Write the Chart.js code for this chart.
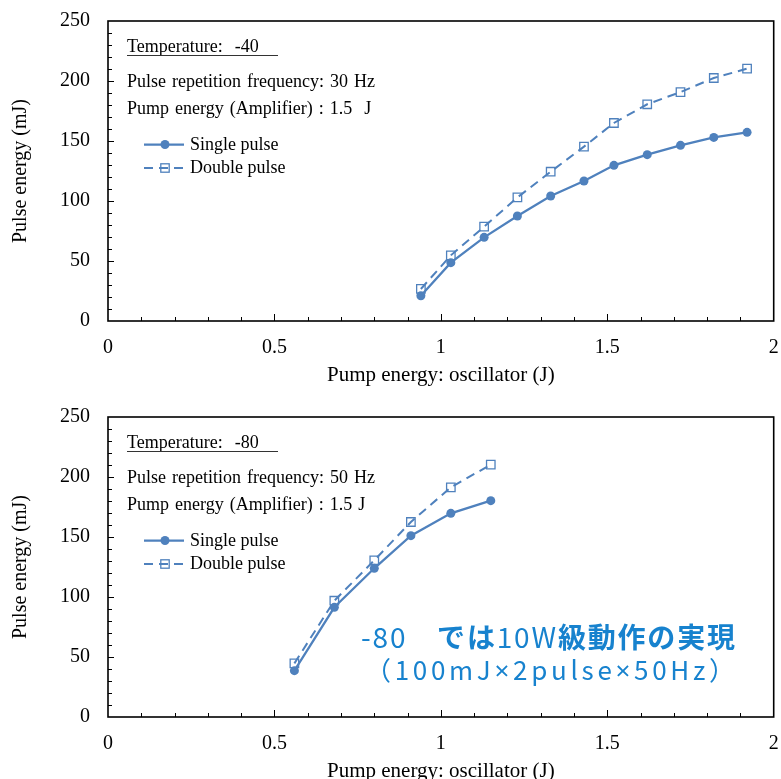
<!DOCTYPE html>
<html><head><meta charset="utf-8">
<script src="https://cdn.jsdelivr.net/npm/chart.js@4.4.1/dist/chart.umd.min.js"></script>
<style>
html,body{margin:0;padding:0;background:#fff;overflow:hidden;width:781px;height:779px;position:relative}
canvas{display:block;position:absolute;left:0}
#c1{top:0}
#c2{top:396px}
</style></head><body>
<canvas id="c1" width="781" height="396"></canvas>
<canvas id="c2" width="781" height="396"></canvas>
<script>
// ---------- data ----------
const xTop = [0.94, 1.03, 1.13, 1.23, 1.33, 1.43, 1.52, 1.62, 1.72, 1.82, 1.92];
const singleTop = [21, 48.6, 69.7, 87.5, 104.2, 116.7, 129.7, 138.6, 146.4, 153, 157.2];
const doubleTop = [26.7, 54.7, 78.6, 103, 124.4, 145.3, 165, 180.6, 190.8, 202.5, 210.3];

const xBottom = [0.56, 0.68, 0.80, 0.91, 1.03, 1.15];
const singleBottom = [38.6, 91.4, 123.9, 151.1, 169.7, 180.3];
const doubleBottom = [44.7, 96.9, 130.6, 162.5, 191.4, 210.3];

const seriesNames = ['Single pulse', 'Double pulse'];
const xTitle = 'Pump energy: oscillator (J)';
const yTitle = 'Pulse energy (mJ)';
const infoTop = ['Temperature:  -40', 'Pulse repetition frequency: 30 Hz', 'Pump energy (Amplifier) : 1.5  J'];
const infoBottom = ['Temperature:  -80', 'Pulse repetition frequency: 50 Hz', 'Pump energy (Amplifier) : 1.5 J'];
const noteLine1 = [['-80', 400], ['\u3000', 400], ['では', 700], ['10W', 400], ['級動作の実現', 700]];
const noteLine2 = '（100mJ×2pulse×50Hz）';

// ---------- style ----------
const SERIF = '"Liberation Serif","Times New Roman",serif';
const CJK = '"Noto Sans CJK JP","Noto Sans CJK SC",sans-serif';
const BLUE = '#4F81BD';
const NOTE_BLUE = '#1782CE';

function pts(xs, ys) { return xs.map((x, i) => ({x, y: ys[i]})); }

function makeDatasets(xs, s, d) {
  return [
    {label: seriesNames[0], data: pts(xs, s), showLine: true, borderColor: BLUE, backgroundColor: BLUE,
     borderWidth: 2.25, pointStyle: 'circle', pointRadius: 4.5, pointBackgroundColor: BLUE, pointBorderColor: BLUE,
     pointBorderWidth: 0, tension: 0},
    {label: seriesNames[1], data: pts(xs, d), showLine: true, borderColor: BLUE, backgroundColor: 'transparent',
     borderWidth: 2, borderDash: [9, 6], pointStyle: 'rect', pointRadius: 6, pointBackgroundColor: 'transparent',
     pointBorderColor: BLUE, pointBorderWidth: 1.3, tension: 0}
  ];
}

function drawLegend(ctx, y, baseline, type, label) {
  const x1 = 144, x2 = 184, mx = 165;
  ctx.save();
  ctx.strokeStyle = BLUE;
  if (type === 0) {
    ctx.lineWidth = 2.25; ctx.setLineDash([]);
    ctx.beginPath(); ctx.moveTo(x1, y); ctx.lineTo(x2, y); ctx.stroke();
    ctx.fillStyle = BLUE; ctx.beginPath(); ctx.arc(mx, y, 4.5, 0, Math.PI * 2); ctx.fill();
  } else {
    ctx.lineWidth = 2; ctx.setLineDash([9, 6]);
    ctx.beginPath(); ctx.moveTo(x1, y); ctx.lineTo(x2, y); ctx.stroke();
    ctx.setLineDash([]); ctx.lineWidth = 1.3;
    ctx.strokeRect(mx - 4.2, y - 4.2, 8.4, 8.4);
  }
  ctx.fillStyle = '#000'; ctx.font = '18px ' + SERIF; ctx.textBaseline = 'alphabetic'; ctx.textAlign = 'left';
  ctx.fillText(label, 190, baseline);
  ctx.restore();
}

function fontFor(ch, weight, size) {
  return ch === '×' ? weight + ' ' + size + 'px "Noto Sans",sans-serif' : weight + ' ' + size + 'px ' + CJK;
}

function drawSpaced(ctx, text, x, y, spacing, weight, size) {
  for (const ch of text) {
    ctx.font = fontFor(ch, weight, size);
    ctx.fillText(ch, x, y);
    x += ctx.measureText(ch).width + spacing;
  }
  return x;
}

function measureSpaced(ctx, text, weight, size) {
  let w = 0, n = 0;
  for (const ch of text) { ctx.font = fontFor(ch, weight, size); w += ctx.measureText(ch).width; n++; }
  return [w, n];
}

function decoPlugin(info, withNote) {
  return {
    id: 'deco',
    afterDraw(chart) {
      const ctx = chart.ctx, a = chart.chartArea, xs = chart.scales.x, ys = chart.scales.y;
      ctx.save();
      // inward ticks
      ctx.strokeStyle = '#000'; ctx.lineWidth = 1;
      for (let i = 1; i < 20; i++) {
        const v = i / 10, px = Math.round(xs.getPixelForValue(v)) + 0.5;
        const len = (i % 5 === 0) ? 7 : 4;
        ctx.beginPath(); ctx.moveTo(px, a.bottom); ctx.lineTo(px, a.bottom - len); ctx.stroke();
      }
      for (let v = 10; v < 250; v += 10) {
        const py = Math.round(ys.getPixelForValue(v)) + 0.5;
        const len = (v % 50 === 0) ? 6 : 4;
        ctx.beginPath(); ctx.moveTo(a.left, py); ctx.lineTo(a.left + len, py); ctx.stroke();
      }
      // frame
      ctx.lineWidth = 1.6; ctx.strokeStyle = '#000';
      ctx.strokeRect(a.left, a.top, a.right - a.left, a.bottom - a.top);
      // info text
      ctx.fillStyle = '#000'; ctx.font = '18px ' + SERIF; ctx.textAlign = 'left'; ctx.textBaseline = 'alphabetic';
      if ('wordSpacing' in ctx) ctx.wordSpacing = '1.5px';
      ctx.fillText(info[0], 127, 52);
      ctx.fillText(info[1], 127, 87);
      ctx.fillText(info[2], 127, 114);
      if ('wordSpacing' in ctx) ctx.wordSpacing = '0px';
      ctx.lineWidth = 1.2; ctx.strokeStyle = '#333';
      ctx.beginPath(); ctx.moveTo(127, 55.5); ctx.lineTo(278, 55.5); ctx.stroke();
      ctx.restore();
      drawLegend(ctx, 144.5, 150, 0, seriesNames[0]);
      drawLegend(ctx, 168, 173, 1, seriesNames[1]);
      if (withNote) {
        ctx.save();
        ctx.fillStyle = NOTE_BLUE; ctx.textBaseline = 'alphabetic'; ctx.textAlign = 'left';
        // line 1
        let total = 0, n = 0;
        for (const [t, w] of noteLine1) { const [mw, mn] = measureSpaced(ctx, t, w, 28); total += mw; n += mn; }
        const sp1 = (374 - total) / (n - 1);
        let x = 361;
        for (const [t, w] of noteLine1) { x = drawSpaced(ctx, t, x, 251.5, sp1, w, 28); }
        // line 2
        const [t2, n2] = measureSpaced(ctx, noteLine2, 400, 26);
        const sp2 = (370 - t2) / (n2 - 1);
        drawSpaced(ctx, noteLine2, 365, 283.5, sp2, 400, 26);
        ctx.restore();
      }
    }
  };
}

function makeChart(id, xs, s, d, info, withNote) {
  return new Chart(document.getElementById(id), {
    type: 'scatter',
    data: {datasets: makeDatasets(xs, s, d)},
    options: {
      responsive: false, animation: false, devicePixelRatio: 1,
      layout: {padding: {top: 21, right: 6, left: 0, bottom: 0}},
      plugins: {legend: {display: false}, tooltip: {enabled: false}},
      scales: {
        x: {
          type: 'linear', min: 0, max: 2,
          ticks: {stepSize: 0.5, color: '#000', font: {family: SERIF, size: 20}, padding: 15, maxRotation: 0, autoSkip: false,
                  callback: v => String(v)},
          grid: {display: false, drawTicks: false},
          border: {display: false},
          title: {display: true, text: xTitle, color: '#000', font: {family: SERIF, size: 21}, padding: {top: 4, bottom: 8}},
          afterFit(sc) { sc.height = 75; sc.paddingLeft = 0; sc.paddingRight = 0; }
        },
        y: {
          type: 'linear', min: 0, max: 250,
          ticks: {stepSize: 50, color: '#000', font: {family: SERIF, size: 20}, padding: 18, callback: v => String(v)},
          grid: {display: false, drawTicks: false},
          border: {display: false},
          title: {display: true, text: yTitle, color: '#000', font: {family: SERIF, size: 20}, padding: {top: 9, bottom: 4}},
          afterFit(sc) { sc.width = 108; sc.paddingTop = 0; sc.paddingBottom = 0; }
        }
      }
    },
    plugins: [decoPlugin(info, withNote)]
  });
}

makeChart('c1', xTop, singleTop, doubleTop, infoTop, false);
makeChart('c2', xBottom, singleBottom, doubleBottom, infoBottom, true);
</script>
</body></html>
